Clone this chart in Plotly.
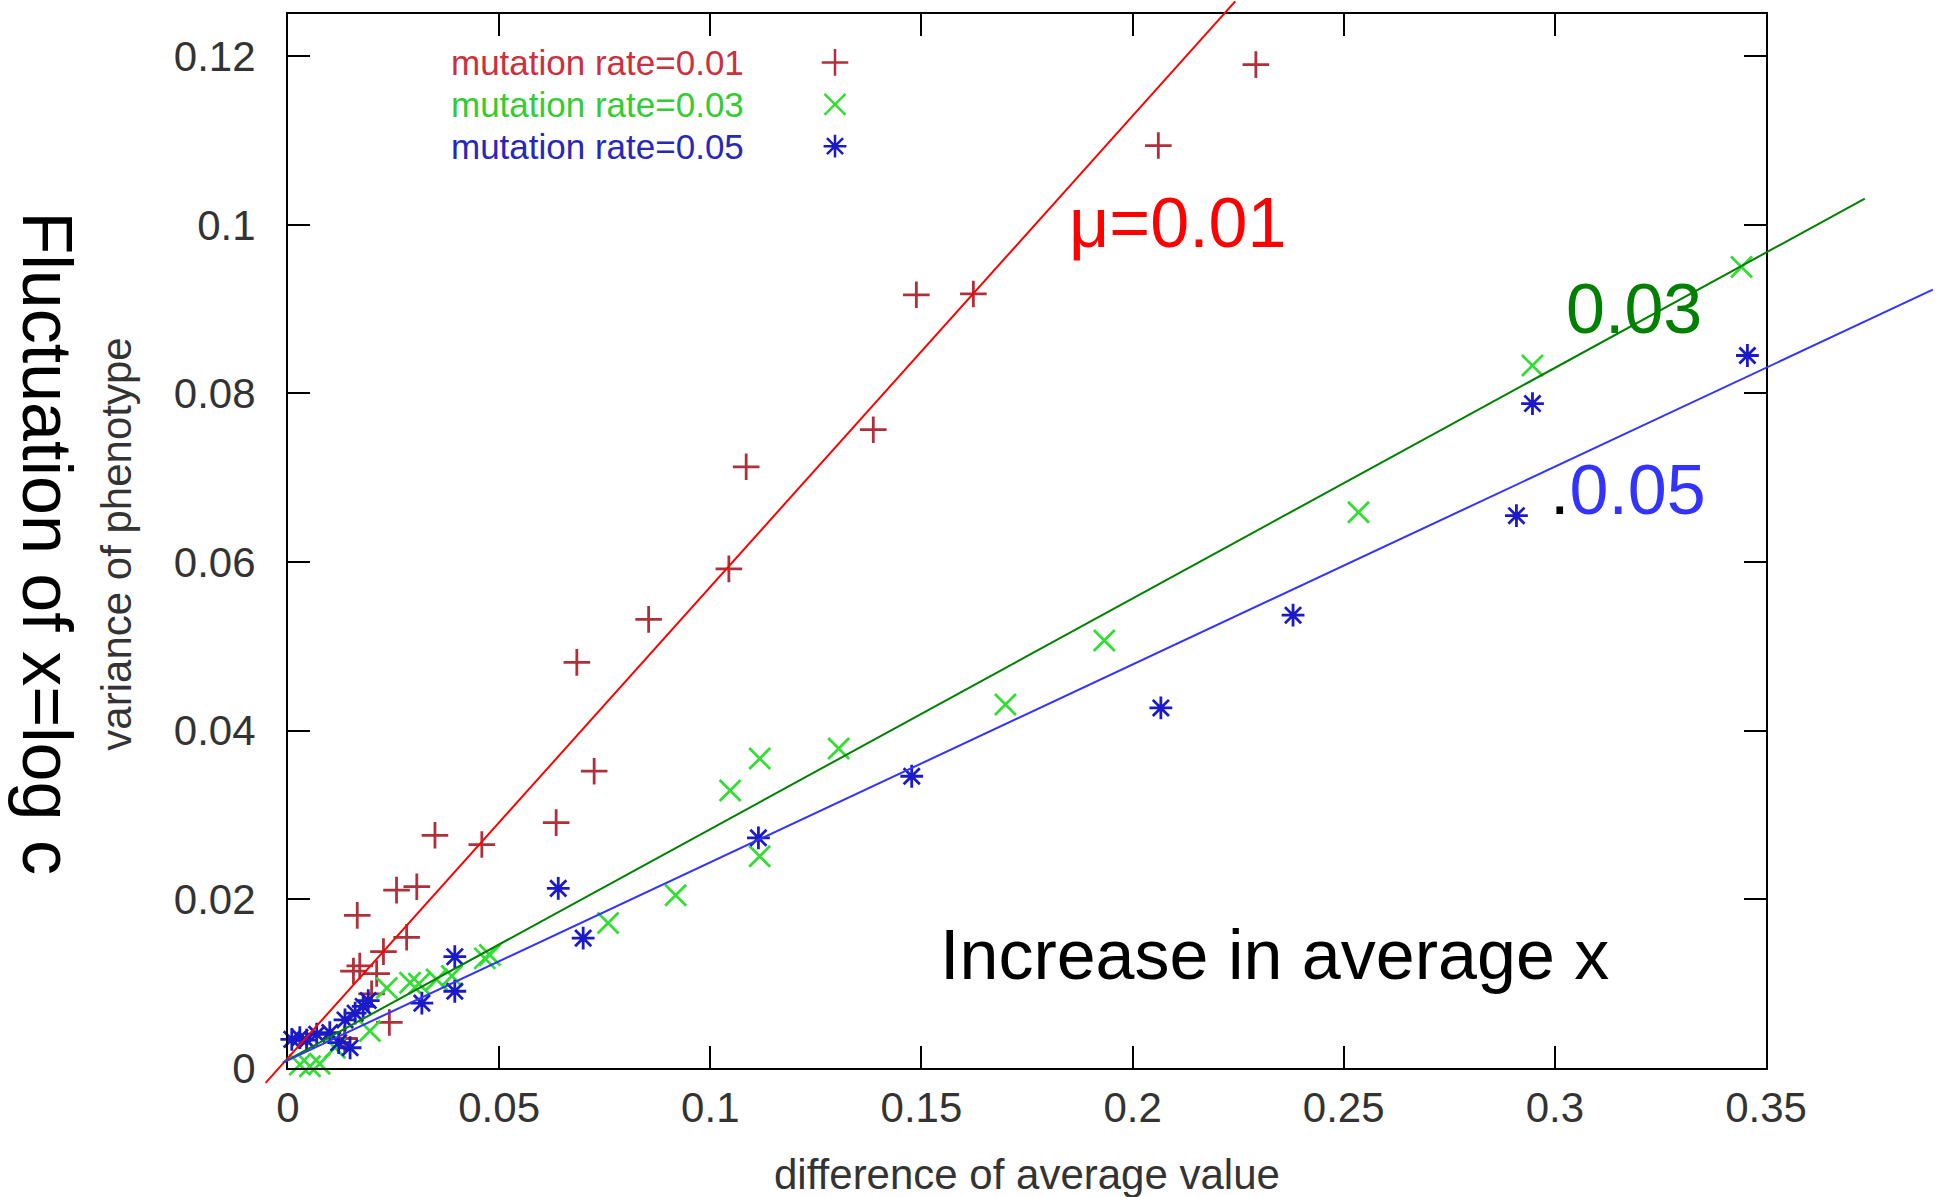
import plotly.graph_objects as go

# ---------------- data ----------------
red_x = [0.2292, 0.2061, 0.1488, 0.1623, 0.1386, 0.1085, 0.1044, 0.0854, 0.0684, 0.0725,
         0.0635, 0.0348, 0.0459, 0.0305, 0.0257, 0.0164, 0.0281, 0.0226, 0.0170, 0.0210,
         0.0155, 0.0198, 0.0240, 0.0134]
red_y = [0.1190, 0.1094, 0.0917, 0.0918, 0.0757, 0.0713, 0.0592, 0.0532, 0.0481, 0.0352,
         0.0291, 0.0276, 0.0265, 0.0215, 0.0211, 0.0181, 0.0155, 0.0138, 0.0121, 0.0112,
         0.0115, 0.0088, 0.0054, 0.0035]

green_x = [0.3442, 0.2947, 0.2535, 0.1933, 0.1699, 0.1304, 0.1117, 0.1047, 0.1117, 0.0918,
           0.0758, 0.0466, 0.0478, 0.0388, 0.0352, 0.0310, 0.0289, 0.0234, 0.0194, 0.0111,
           0.0075, 0.0052, 0.0028]
green_y = [0.0950, 0.0833, 0.0659, 0.0507, 0.0431, 0.0379, 0.0367, 0.0329, 0.0251, 0.0205,
           0.0172, 0.0130, 0.0134, 0.0109, 0.0105, 0.0100, 0.0101, 0.0095, 0.0044, 0.0024,
           0.0005, 0.0002, 0.0004]

blue_x = [0.3456, 0.2947, 0.2909, 0.2380, 0.2067, 0.1477, 0.1114, 0.0640, 0.0699, 0.0395,
          0.0395, 0.0317, 0.0178, 0.0159, 0.0135, 0.0147, 0.0120, 0.0099, 0.0068, 0.0044,
          0.0028, 0.0009, 0.0190]
blue_y = [0.0845, 0.0788, 0.0655, 0.0537, 0.0427, 0.0346, 0.0273, 0.0213, 0.0154, 0.0132,
          0.0091, 0.0077, 0.0073, 0.0065, 0.0057, 0.0024, 0.0030, 0.0042, 0.0040, 0.0033,
          0.0036, 0.0034, 0.0080]

series_names = ["mutation rate=0.01", "mutation rate=0.03", "mutation rate=0.05"]

# hand-drawn fit lines: slope, intercept, x start, x end
fit_slope = [0.5586, 0.2735, 0.2346]
fit_intercept = [0.0012, 0.00098, 0.00093]
fit_x0 = [-0.0053, -0.0012, -0.0012]
fit_x1 = [0.2243, 0.3734, 0.3895]
fit_labels = ["μ=0.01", "0.03", "<span style='color:#000000'>.</span>0.05"]

x_ticks = [0, 0.05, 0.1, 0.15, 0.2, 0.25, 0.3, 0.35]
y_ticks = [0, 0.02, 0.04, 0.06, 0.08, 0.1, 0.12]

# ---------------- style ----------------
X_RANGE = [0, 0.35]
Y_RANGE = [0, 0.125]
FONT = "Liberation Sans, Arial, sans-serif"
marker_colors = ["#b0303a", "#33dd33", "#1a1ac8"]
text_colors = ["#cc3040", "#33cc33", "#2828b8"]
line_colors = ["#ff0000", "#008000", "#3333ff"]
symbols = ["cross-thin-open", "x-thin-open", "asterisk-open"]
sizes = [19, 21, 19]

fig = go.Figure()

for xs, ys, name, c, s, sz in zip([red_x, green_x, blue_x], [red_y, green_y, blue_y],
                                  series_names, marker_colors, symbols, sizes):
    fig.add_trace(go.Scatter(
        x=xs, y=ys, mode="markers", name=name, showlegend=False, cliponaxis=False,
        marker=dict(symbol=s, size=sz, color=c, line=dict(color=c, width=2.8)),
    ))

# legend markers on an overlay axis (paper-like 0..1)
leg_y = [0.9541, 0.9143, 0.8746]
for i in range(3):
    fig.add_trace(go.Scatter(
        x=[0.3701], y=[leg_y[i]], xaxis="x2", yaxis="y2", mode="markers",
        showlegend=False, cliponaxis=False, hoverinfo="skip",
        marker=dict(symbol=symbols[i], size=sizes[i], color=marker_colors[i],
                    line=dict(color=marker_colors[i], width=2.5)),
    ))

def to_px(x):
    return (x - X_RANGE[0]) / (X_RANGE[1] - X_RANGE[0])

def to_py(y):
    return (y - Y_RANGE[0]) / (Y_RANGE[1] - Y_RANGE[0])

shapes = []
for k in range(3):
    xa, xb = fit_x0[k], fit_x1[k]
    ya = fit_intercept[k] + fit_slope[k] * xa
    yb = fit_intercept[k] + fit_slope[k] * xb
    shapes.append(dict(type="line", xref="paper", yref="paper",
                       x0=to_px(xa), y0=to_py(ya), x1=to_px(xb), y1=to_py(yb),
                       line=dict(color=line_colors[k], width=2), layer="above"))

annotations = []
# legend texts
for i in range(3):
    annotations.append(dict(xref="paper", yref="paper", x=0.3092, y=leg_y[i],
                            xanchor="right", yanchor="middle", showarrow=False,
                            text=series_names[i], borderpad=0,
                            font=dict(family=FONT, size=35, color=text_colors[i])))
# big labels for fit lines
label_pos = [(0.2107, 0.1002), (0.3187, 0.0900), (0.3173, 0.0685)]
for k in range(3):
    annotations.append(dict(xref="x", yref="y", x=label_pos[k][0], y=label_pos[k][1],
                            xanchor="center", yanchor="middle", showarrow=False,
                            text=fit_labels[k],
                            font=dict(family=FONT, size=70, color=line_colors[k])))
annotations.append(dict(xref="x", yref="y", x=0.2337, y=0.0134, xanchor="center",
                        yanchor="middle", showarrow=False, text="Increase in average x",
                        font=dict(family=FONT, size=70, color="#000000")))
annotations.append(dict(xref="paper", yref="paper", x=-0.1630, y=0.4985, xanchor="center",
                        yanchor="middle", showarrow=False, text="Fluctuation of x=log c",
                        textangle=90, font=dict(family=FONT, size=70, color="#000000")))
# axis titles
annotations.append(dict(xref="paper", yref="paper", x=-0.1157, y=0.4975, xanchor="center",
                        yanchor="middle", showarrow=False, text="variance of phenotype",
                        textangle=-90, font=dict(family=FONT, size=42, color="#333333")))
annotations.append(dict(xref="paper", yref="paper", x=0.5, y=-0.1010, xanchor="center",
                        yanchor="middle", showarrow=False, text="difference of average value",
                        font=dict(family=FONT, size=42, color="#333333")))

axis_common = dict(showgrid=False, zeroline=False, showline=True, linecolor="#000000",
                   linewidth=2, mirror="ticks", ticks="inside", ticklen=22, tickwidth=2,
                   tickcolor="#000000",
                   tickfont=dict(family=FONT, size=42, color="#333333"))

fig.update_layout(
    width=1937, height=1197,
    margin=dict(l=288, r=171, t=12, b=129, pad=0),
    paper_bgcolor="#ffffff", plot_bgcolor="#ffffff",
    showlegend=False,
    xaxis=dict(range=X_RANGE, tickvals=x_ticks, ticktext=[f"{v:g}" for v in x_ticks],
               ticklabelstandoff=2, **axis_common),
    yaxis=dict(range=Y_RANGE, tickvals=y_ticks, ticktext=[f"{v:g}" for v in y_ticks],
               ticklabelstandoff=22, **axis_common),
    xaxis2=dict(range=[0, 1], overlaying="x", visible=False, fixedrange=True),
    yaxis2=dict(range=[0, 1], overlaying="y", visible=False, fixedrange=True),
    shapes=shapes,
    annotations=annotations,
)

fig.write_html("out.html")
